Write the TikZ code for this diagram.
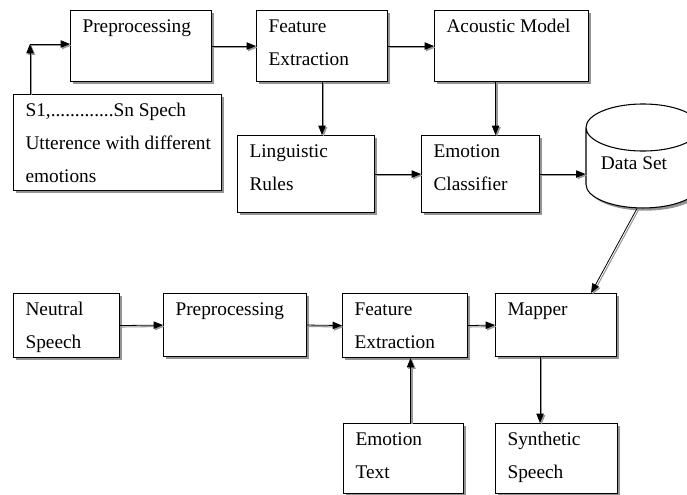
\documentclass[tikz,border=0pt]{standalone}
\usepackage{fontspec}
\setmainfont{Liberation Serif}
\usetikzlibrary{arrows.meta, calc, shadows, shapes.geometric}

\newlength{\pxu}
\setlength{\pxu}{0.75pt}
% box text: width, height (px), lines
\newcommand{\blocktext}[3]{\parbox[t][#2\pxu][t]{#1\pxu}{\leftskip=12\pxu\rightskip=0pt plus 1fil\parfillskip=0pt plus 1fil\rule{0pt}{22\pxu}#3}}

\begin{document}
\begin{tikzpicture}[x=0.75pt, y=-0.75pt,
    font=\fontsize{14.5}{24.75}\selectfont,
    boxshadow/.style={drop shadow={shadow xshift=2pt, shadow yshift=-2pt, fill=black!60, opacity=0.7}},
    blk/.style={draw, fill=white, line width=0.8pt, anchor=north west, inner sep=0pt, boxshadow},
    arr/.style={-{Triangle[length=7pt,width=5.5pt]}, line width=0.6pt,
      preaction={draw=black!40, line width=0.8pt, transform canvas={xshift=1.1pt, yshift=-1.1pt}}}]
    \useasboundingbox (0,0) rectangle (687,494);

    % upper chain
    \node[blk] (pre1) at (70,10) {\blocktext{141}{71}{Preprocessing}};
    \node[blk] (s1) at (13,94) {\blocktext{208}{96}{S1,.............Sn Spech\\ Utterence with different\\ emotions}};
    \node[blk] (fe1) at (256,10) {\blocktext{131}{71}{Feature\\ Extraction}};
    \node[blk] (am) at (434,10) {\blocktext{154}{71}{Acoustic Model}};
    \node[blk] (ling) at (237,135) {\blocktext{137}{77}{Linguistic\\ Rules}};
    \node[blk] (ec) at (421,135) {\blocktext{118}{77}{Emotion\\ Classifier}};
    \node[draw, fill=white, line width=0.8pt, cylinder, shape border rotate=90, aspect=0.56,
      minimum width=114\pxu, minimum height=104\pxu, inner sep=0pt, boxshadow] (data) at (643,168)
      {\raisebox{9\pxu}{Data Set\hspace{18\pxu}}};

    % lower chain
    \node[blk] (ns) at (13,293) {\blocktext{106}{64}{Neutral\\ Speech}};
    \node[blk] (pre2) at (163,293) {\blocktext{143}{63}{Preprocessing}};
    \node[blk] (fe2) at (342,293) {\blocktext{125}{64}{Feature\\ Extraction}};
    \node[blk] (mapper) at (495,293) {\blocktext{121}{63}{Mapper}};
    \node[blk] (et) at (343,423) {\blocktext{120}{70}{Emotion\\ Text}};
    \node[blk] (ss) at (495,423) {\blocktext{122}{70}{Synthetic\\ Speech}};

    \coordinate (crn) at (30,44);
    \draw[arr] (s1.north -| crn) -- (crn);
    \draw[arr] (crn) -- (crn -| pre1.west);
    \draw[arr] (pre1.east) -- (fe1.west);
    \draw[arr] (fe1.east) -- (am.west);
    \draw[arr] (fe1.south) -- (fe1.south |- ling.north);
    \draw[arr] ($(am.south)+(-16,0)$) -- ($(am.south |- ec.north)+(-16,0)$);
    \draw[arr] (ling.east) -- (ec.west);
    \draw[arr] (ec.east) -- (ec.east -| data.west);
    \draw[arr] ($(data.south)+(-6,0)$) -- ($(mapper.north east)+(-26,0)$);

    \draw[arr] (ns.east) -- (pre2.west);
    \draw[arr] (pre2.east) -- (fe2.west);
    \draw[arr] (fe2.east) -- (mapper.west);
    \draw[arr] ($(et.north)+(7,0)$) -- ($(et.north |- fe2.south)+(7,0)$);
    \draw[arr] ($(mapper.south)+(-16,0)$) -- ($(mapper.south |- ss.north)+(-16,0)$);
\end{tikzpicture}
\end{document}
